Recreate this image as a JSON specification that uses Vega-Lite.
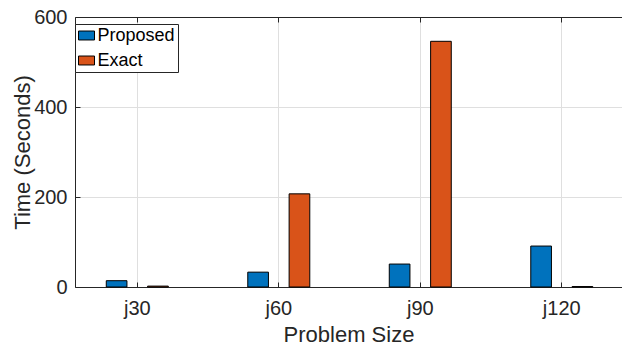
{
  "$schema": "https://vega.github.io/schema/vega-lite/v6.json",
  "width": 547,
  "height": 270,
  "autosize": {"type": "none"},
  "padding": {"left": 75, "top": 17, "right": 0, "bottom": 59},
  "background": "white",
  "config": {"view": {"stroke": null}, "font": "Liberation Sans"},
  "data": {
    "values": [
      {"size": "j30", "method": "Proposed", "time": 14},
      {"size": "j30", "method": "Exact", "time": 2},
      {"size": "j60", "method": "Proposed", "time": 33},
      {"size": "j60", "method": "Exact", "time": 207},
      {"size": "j90", "method": "Proposed", "time": 51},
      {"size": "j90", "method": "Exact", "time": 546},
      {"size": "j120", "method": "Proposed", "time": 91},
      {"size": "j120", "method": "Exact", "time": 1}
    ]
  },
  "layer": [
    {
      "mark": {"type": "bar", "stroke": "#000000", "strokeWidth": 1},
      "encoding": {
        "x": {
          "field": "size",
          "type": "nominal",
          "sort": ["j30", "j60", "j90", "j120"],
          "scale": {"paddingInner": 0.5618, "paddingOuter": 0.2138, "align": 0.517},
          "axis": {
            "orient": "bottom",
            "title": "Problem Size",
            "labelAngle": 0,
            "labelFontSize": 20,
            "labelColor": "#262626",
            "labelPadding": 16,
            "tickSize": -5,
            "tickColor": "#262626",
            "domainColor": "#262626",
            "grid": true,
            "gridColor": "#dfdfdf",
            "bandPosition": 0.5,
            "titleFontSize": 22,
            "titleFontWeight": "normal",
            "titleColor": "#262626",
            "titleBaseline": "alphabetic",
            "titleY": 54
          }
        },
        "xOffset": {
          "field": "method",
          "type": "nominal",
          "sort": ["Proposed", "Exact"],
          "scale": {"paddingInner": 0.5, "paddingOuter": 0}
        },
        "y": {
          "field": "time",
          "type": "quantitative",
          "scale": {"domain": [0, 600], "nice": false},
          "axis": {
            "values": [0, 200, 400, 600],
            "title": "Time (Seconds)",
            "labelFontSize": 20,
            "labelColor": "#262626",
            "labelPadding": 13,
            "tickSize": -5,
            "tickColor": "#262626",
            "domainColor": "#262626",
            "grid": true,
            "gridColor": "#dfdfdf",
            "titleFontSize": 22,
            "titleFontWeight": "normal",
            "titleColor": "#262626",
            "titleBaseline": "alphabetic",
            "titleX": -46
          }
        },
        "color": {
          "field": "method",
          "type": "nominal",
          "scale": {"domain": ["Proposed", "Exact"], "range": ["#0072BD", "#D95319"]},
          "legend": {
            "orient": "none",
            "legendX": 0,
            "legendY": 7,
            "title": null,
            "direction": "vertical",
            "fillColor": "white",
            "strokeColor": "#262626",
            "padding": 2.5,
            "labelFontSize": 18,
            "labelColor": "#000000",
            "labelFont": "Liberation Sans",
            "symbolType": "M-1,-0.56H1V0.56H-1Z",
            "symbolSize": 256,
            "symbolStrokeColor": "#000000",
            "symbolStrokeWidth": 1,
            "symbolOpacity": 1,
            "labelOffset": 2,
            "rowPadding": 7
          }
        }
      }
    },
    {
      "mark": {"type": "tick", "opacity": 0},
      "encoding": {
        "x": {
          "field": "size",
          "type": "nominal",
          "sort": ["j30", "j60", "j90", "j120"],
          "axis": {
            "orient": "top",
            "labels": false,
            "title": null,
            "grid": false,
            "tickSize": -5,
            "tickColor": "#262626",
            "domainColor": "#262626",
            "bandPosition": 0.5
          }
        }
      }
    }
  ],
  "resolve": {"axis": {"x": "independent"}}
}
